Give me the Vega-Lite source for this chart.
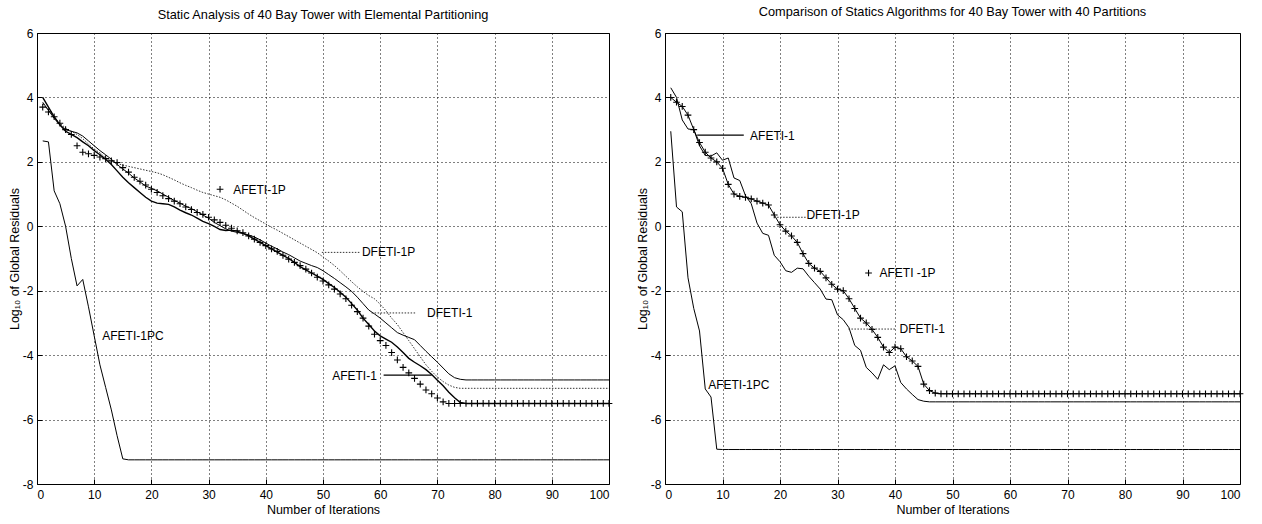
{
  "$schema": "https://vega.github.io/schema/vega-lite/v6.json",
  "background": "white",
  "padding": {"left": 7, "top": 5, "right": 2, "bottom": 2},
  "bounds": "flush",
  "spacing": 56,
  "config": {
    "font": "Liberation Sans",
    "view": {"stroke": "#000", "strokeWidth": 1},
    "axis": {"grid": true, "gridColor": "#000", "gridDash": [1, 3], "gridWidth": 1, "gridOpacity": 1, "domain": false, "ticks": true, "tickColor": "#000", "tickSize": -5, "tickWidth": 1, "labelFontSize": 12, "labelColor": "#000", "titleFontSize": 12.5, "titleFontWeight": "normal", "titleColor": "#000", "labelExpr": "'' + datum.value"},
    "axisX": {"labelPadding": 10, "titlePadding": 3},
    "axisY": {"labelPadding": 9, "titlePadding": 1},
    "title": {"fontSize": 12.75, "fontWeight": "normal", "color": "#000"}
  },
  "datasets": {
    "L_A1PC": [{"x":1,"y":2.65},{"x":2,"y":2.62},{"x":3,"y":1.1},{"x":4,"y":0.7},{"x":5,"y":0},{"x":6,"y":-1},{"x":7,"y":-1.85},{"x":8,"y":-1.65},{"x":9,"y":-2.5},{"x":10,"y":-3.4},{"x":11,"y":-4.3},{"x":12,"y":-5},{"x":13,"y":-5.7},{"x":14,"y":-6.5},{"x":15,"y":-7.22},{"x":16,"y":-7.25},{"x":17,"y":-7.25},{"x":18,"y":-7.25},{"x":19,"y":-7.25},{"x":20,"y":-7.25},{"x":21,"y":-7.25},{"x":22,"y":-7.25},{"x":23,"y":-7.25},{"x":24,"y":-7.25},{"x":25,"y":-7.25},{"x":26,"y":-7.25},{"x":27,"y":-7.25},{"x":28,"y":-7.25},{"x":29,"y":-7.25},{"x":30,"y":-7.25},{"x":31,"y":-7.25},{"x":32,"y":-7.25},{"x":33,"y":-7.25},{"x":34,"y":-7.25},{"x":35,"y":-7.25},{"x":36,"y":-7.25},{"x":37,"y":-7.25},{"x":38,"y":-7.25},{"x":39,"y":-7.25},{"x":40,"y":-7.25},{"x":41,"y":-7.25},{"x":42,"y":-7.25},{"x":43,"y":-7.25},{"x":44,"y":-7.25},{"x":45,"y":-7.25},{"x":46,"y":-7.25},{"x":47,"y":-7.25},{"x":48,"y":-7.25},{"x":49,"y":-7.25},{"x":50,"y":-7.25},{"x":51,"y":-7.25},{"x":52,"y":-7.25},{"x":53,"y":-7.25},{"x":54,"y":-7.25},{"x":55,"y":-7.25},{"x":56,"y":-7.25},{"x":57,"y":-7.25},{"x":58,"y":-7.25},{"x":59,"y":-7.25},{"x":60,"y":-7.25},{"x":61,"y":-7.25},{"x":62,"y":-7.25},{"x":63,"y":-7.25},{"x":64,"y":-7.25},{"x":65,"y":-7.25},{"x":66,"y":-7.25},{"x":67,"y":-7.25},{"x":68,"y":-7.25},{"x":69,"y":-7.25},{"x":70,"y":-7.25},{"x":71,"y":-7.25},{"x":72,"y":-7.25},{"x":73,"y":-7.25},{"x":74,"y":-7.25},{"x":75,"y":-7.25},{"x":76,"y":-7.25},{"x":77,"y":-7.25},{"x":78,"y":-7.25},{"x":79,"y":-7.25},{"x":80,"y":-7.25},{"x":81,"y":-7.25},{"x":82,"y":-7.25},{"x":83,"y":-7.25},{"x":84,"y":-7.25},{"x":85,"y":-7.25},{"x":86,"y":-7.25},{"x":87,"y":-7.25},{"x":88,"y":-7.25},{"x":89,"y":-7.25},{"x":90,"y":-7.25},{"x":91,"y":-7.25},{"x":92,"y":-7.25},{"x":93,"y":-7.25},{"x":94,"y":-7.25},{"x":95,"y":-7.25},{"x":96,"y":-7.25},{"x":97,"y":-7.25},{"x":98,"y":-7.25},{"x":99,"y":-7.25},{"x":100,"y":-7.25}],
    "L_D1P": [{"x":1,"y":3.8},{"x":2,"y":3.6},{"x":3,"y":3.4},{"x":4,"y":3.2},{"x":5,"y":3.05},{"x":6,"y":2.95},{"x":7,"y":2.85},{"x":8,"y":2.72},{"x":9,"y":2.55},{"x":10,"y":2.4},{"x":11,"y":2.28},{"x":12,"y":2.12},{"x":13,"y":2.02},{"x":14,"y":1.95},{"x":15,"y":1.9},{"x":16,"y":1.86},{"x":17,"y":1.82},{"x":18,"y":1.78},{"x":19,"y":1.74},{"x":20,"y":1.7},{"x":21,"y":1.66},{"x":22,"y":1.6},{"x":23,"y":1.52},{"x":24,"y":1.44},{"x":25,"y":1.35},{"x":26,"y":1.27},{"x":27,"y":1.2},{"x":28,"y":1.12},{"x":29,"y":1.05},{"x":30,"y":1},{"x":31,"y":0.95},{"x":32,"y":0.9},{"x":33,"y":0.82},{"x":34,"y":0.72},{"x":35,"y":0.62},{"x":36,"y":0.5},{"x":37,"y":0.38},{"x":38,"y":0.27},{"x":39,"y":0.17},{"x":40,"y":0.07},{"x":41,"y":-0.03},{"x":42,"y":-0.12},{"x":43,"y":-0.22},{"x":44,"y":-0.32},{"x":45,"y":-0.42},{"x":46,"y":-0.52},{"x":47,"y":-0.62},{"x":48,"y":-0.72},{"x":49,"y":-0.82},{"x":50,"y":-0.95},{"x":51,"y":-1.08},{"x":52,"y":-1.22},{"x":53,"y":-1.38},{"x":54,"y":-1.55},{"x":55,"y":-1.72},{"x":56,"y":-1.88},{"x":57,"y":-2.02},{"x":58,"y":-2.15},{"x":59,"y":-2.25},{"x":60,"y":-2.42},{"x":61,"y":-2.62},{"x":62,"y":-2.85},{"x":63,"y":-3.05},{"x":64,"y":-3.3},{"x":65,"y":-3.55},{"x":66,"y":-3.8},{"x":67,"y":-4.05},{"x":68,"y":-4.3},{"x":69,"y":-4.5},{"x":70,"y":-4.68},{"x":71,"y":-4.82},{"x":72,"y":-4.93},{"x":73,"y":-5},{"x":74,"y":-5.03},{"x":75,"y":-5.03},{"x":76,"y":-5.03},{"x":77,"y":-5.03},{"x":78,"y":-5.03},{"x":79,"y":-5.03},{"x":80,"y":-5.03},{"x":81,"y":-5.03},{"x":82,"y":-5.03},{"x":83,"y":-5.03},{"x":84,"y":-5.03},{"x":85,"y":-5.03},{"x":86,"y":-5.03},{"x":87,"y":-5.03},{"x":88,"y":-5.03},{"x":89,"y":-5.03},{"x":90,"y":-5.03},{"x":91,"y":-5.03},{"x":92,"y":-5.03},{"x":93,"y":-5.03},{"x":94,"y":-5.03},{"x":95,"y":-5.03},{"x":96,"y":-5.03},{"x":97,"y":-5.03},{"x":98,"y":-5.03},{"x":99,"y":-5.03},{"x":100,"y":-5.03}],
    "L_D1": [{"x":1,"y":3.85},{"x":2,"y":3.6},{"x":3,"y":3.35},{"x":4,"y":3.15},{"x":5,"y":3},{"x":6,"y":2.95},{"x":7,"y":2.9},{"x":8,"y":2.8},{"x":9,"y":2.65},{"x":10,"y":2.5},{"x":11,"y":2.35},{"x":12,"y":2.22},{"x":13,"y":2.08},{"x":14,"y":1.92},{"x":15,"y":1.78},{"x":16,"y":1.65},{"x":17,"y":1.5},{"x":18,"y":1.38},{"x":19,"y":1.25},{"x":20,"y":1.18},{"x":21,"y":1.1},{"x":22,"y":1},{"x":23,"y":0.9},{"x":24,"y":0.8},{"x":25,"y":0.72},{"x":26,"y":0.62},{"x":27,"y":0.55},{"x":28,"y":0.45},{"x":29,"y":0.35},{"x":30,"y":0.25},{"x":31,"y":0.12},{"x":32,"y":0.02},{"x":33,"y":-0.08},{"x":34,"y":-0.15},{"x":35,"y":-0.19},{"x":36,"y":-0.22},{"x":37,"y":-0.27},{"x":38,"y":-0.33},{"x":39,"y":-0.42},{"x":40,"y":-0.52},{"x":41,"y":-0.62},{"x":42,"y":-0.7},{"x":43,"y":-0.8},{"x":44,"y":-0.88},{"x":45,"y":-0.98},{"x":46,"y":-1.08},{"x":47,"y":-1.15},{"x":48,"y":-1.22},{"x":49,"y":-1.28},{"x":50,"y":-1.38},{"x":51,"y":-1.5},{"x":52,"y":-1.62},{"x":53,"y":-1.75},{"x":54,"y":-1.88},{"x":55,"y":-2.02},{"x":56,"y":-2.2},{"x":57,"y":-2.4},{"x":58,"y":-2.6},{"x":59,"y":-2.72},{"x":60,"y":-2.85},{"x":61,"y":-3},{"x":62,"y":-3.15},{"x":63,"y":-3.3},{"x":64,"y":-3.38},{"x":65,"y":-3.45},{"x":66,"y":-3.52},{"x":67,"y":-3.7},{"x":68,"y":-3.88},{"x":69,"y":-4.05},{"x":70,"y":-4.22},{"x":71,"y":-4.4},{"x":72,"y":-4.58},{"x":73,"y":-4.7},{"x":74,"y":-4.75},{"x":75,"y":-4.77},{"x":76,"y":-4.77},{"x":77,"y":-4.77},{"x":78,"y":-4.77},{"x":79,"y":-4.77},{"x":80,"y":-4.77},{"x":81,"y":-4.77},{"x":82,"y":-4.77},{"x":83,"y":-4.77},{"x":84,"y":-4.77},{"x":85,"y":-4.77},{"x":86,"y":-4.77},{"x":87,"y":-4.77},{"x":88,"y":-4.77},{"x":89,"y":-4.77},{"x":90,"y":-4.77},{"x":91,"y":-4.77},{"x":92,"y":-4.77},{"x":93,"y":-4.77},{"x":94,"y":-4.77},{"x":95,"y":-4.77},{"x":96,"y":-4.77},{"x":97,"y":-4.77},{"x":98,"y":-4.77},{"x":99,"y":-4.77},{"x":100,"y":-4.77}],
    "L_A1": [{"x":1,"y":4},{"x":2,"y":3.7},{"x":3,"y":3.4},{"x":4,"y":3.15},{"x":5,"y":2.95},{"x":6,"y":2.85},{"x":7,"y":2.75},{"x":8,"y":2.62},{"x":9,"y":2.5},{"x":10,"y":2.35},{"x":11,"y":2.22},{"x":12,"y":2.08},{"x":13,"y":1.92},{"x":14,"y":1.72},{"x":15,"y":1.52},{"x":16,"y":1.35},{"x":17,"y":1.2},{"x":18,"y":1.05},{"x":19,"y":0.9},{"x":20,"y":0.78},{"x":21,"y":0.72},{"x":22,"y":0.7},{"x":23,"y":0.68},{"x":24,"y":0.6},{"x":25,"y":0.5},{"x":26,"y":0.42},{"x":27,"y":0.35},{"x":28,"y":0.25},{"x":29,"y":0.15},{"x":30,"y":0.08},{"x":31,"y":0},{"x":32,"y":-0.1},{"x":33,"y":-0.13},{"x":34,"y":-0.12},{"x":35,"y":-0.15},{"x":36,"y":-0.22},{"x":37,"y":-0.3},{"x":38,"y":-0.4},{"x":39,"y":-0.5},{"x":40,"y":-0.6},{"x":41,"y":-0.7},{"x":42,"y":-0.8},{"x":43,"y":-0.9},{"x":44,"y":-1},{"x":45,"y":-1.12},{"x":46,"y":-1.25},{"x":47,"y":-1.35},{"x":48,"y":-1.45},{"x":49,"y":-1.55},{"x":50,"y":-1.65},{"x":51,"y":-1.78},{"x":52,"y":-1.9},{"x":53,"y":-2.05},{"x":54,"y":-2.2},{"x":55,"y":-2.4},{"x":56,"y":-2.6},{"x":57,"y":-2.85},{"x":58,"y":-3.05},{"x":59,"y":-3.25},{"x":60,"y":-3.4},{"x":61,"y":-3.5},{"x":62,"y":-3.6},{"x":63,"y":-3.75},{"x":64,"y":-3.92},{"x":65,"y":-4.1},{"x":66,"y":-4.22},{"x":67,"y":-4.33},{"x":68,"y":-4.45},{"x":69,"y":-4.6},{"x":70,"y":-4.78},{"x":71,"y":-4.95},{"x":72,"y":-5.15},{"x":73,"y":-5.32},{"x":74,"y":-5.47},{"x":75,"y":-5.5},{"x":76,"y":-5.5},{"x":77,"y":-5.5},{"x":78,"y":-5.5},{"x":79,"y":-5.5},{"x":80,"y":-5.5},{"x":81,"y":-5.5},{"x":82,"y":-5.5},{"x":83,"y":-5.5},{"x":84,"y":-5.5},{"x":85,"y":-5.5},{"x":86,"y":-5.5},{"x":87,"y":-5.5},{"x":88,"y":-5.5},{"x":89,"y":-5.5},{"x":90,"y":-5.5},{"x":91,"y":-5.5},{"x":92,"y":-5.5},{"x":93,"y":-5.5},{"x":94,"y":-5.5},{"x":95,"y":-5.5},{"x":96,"y":-5.5},{"x":97,"y":-5.5},{"x":98,"y":-5.5},{"x":99,"y":-5.5},{"x":100,"y":-5.5}],
    "L_A1P": [{"x":1,"y":3.7},{"x":2,"y":3.55},{"x":3,"y":3.4},{"x":4,"y":3.2},{"x":5,"y":3},{"x":6,"y":2.85},{"x":7,"y":2.5},{"x":8,"y":2.3},{"x":9,"y":2.25},{"x":10,"y":2.2},{"x":11,"y":2.15},{"x":12,"y":2.1},{"x":13,"y":2.03},{"x":14,"y":1.98},{"x":15,"y":1.82},{"x":16,"y":1.68},{"x":17,"y":1.52},{"x":18,"y":1.4},{"x":19,"y":1.28},{"x":20,"y":1.15},{"x":21,"y":1.05},{"x":22,"y":0.95},{"x":23,"y":0.86},{"x":24,"y":0.78},{"x":25,"y":0.7},{"x":26,"y":0.6},{"x":27,"y":0.52},{"x":28,"y":0.43},{"x":29,"y":0.37},{"x":30,"y":0.28},{"x":31,"y":0.2},{"x":32,"y":0.12},{"x":33,"y":0.03},{"x":34,"y":-0.06},{"x":35,"y":-0.14},{"x":36,"y":-0.2},{"x":37,"y":-0.3},{"x":38,"y":-0.4},{"x":39,"y":-0.5},{"x":40,"y":-0.6},{"x":41,"y":-0.7},{"x":42,"y":-0.78},{"x":43,"y":-0.9},{"x":44,"y":-1.02},{"x":45,"y":-1.12},{"x":46,"y":-1.22},{"x":47,"y":-1.33},{"x":48,"y":-1.45},{"x":49,"y":-1.58},{"x":50,"y":-1.7},{"x":51,"y":-1.82},{"x":52,"y":-1.95},{"x":53,"y":-2.1},{"x":54,"y":-2.25},{"x":55,"y":-2.45},{"x":56,"y":-2.65},{"x":57,"y":-2.85},{"x":58,"y":-3.1},{"x":59,"y":-3.35},{"x":60,"y":-3.55},{"x":61,"y":-3.7},{"x":62,"y":-3.92},{"x":63,"y":-4.15},{"x":64,"y":-4.38},{"x":65,"y":-4.55},{"x":66,"y":-4.72},{"x":67,"y":-4.9},{"x":68,"y":-5.08},{"x":69,"y":-5.2},{"x":70,"y":-5.33},{"x":71,"y":-5.45},{"x":72,"y":-5.5},{"x":73,"y":-5.5},{"x":74,"y":-5.5},{"x":75,"y":-5.5},{"x":76,"y":-5.5},{"x":77,"y":-5.5},{"x":78,"y":-5.5},{"x":79,"y":-5.5},{"x":80,"y":-5.5},{"x":81,"y":-5.5},{"x":82,"y":-5.5},{"x":83,"y":-5.5},{"x":84,"y":-5.5},{"x":85,"y":-5.5},{"x":86,"y":-5.5},{"x":87,"y":-5.5},{"x":88,"y":-5.5},{"x":89,"y":-5.5},{"x":90,"y":-5.5},{"x":91,"y":-5.5},{"x":92,"y":-5.5},{"x":93,"y":-5.5},{"x":94,"y":-5.5},{"x":95,"y":-5.5},{"x":96,"y":-5.5},{"x":97,"y":-5.5},{"x":98,"y":-5.5},{"x":99,"y":-5.5},{"x":100,"y":-5.5}],
    "L_labels": [{"x":34.3,"y":1.13,"label":"AFETI-1P"},{"x":56.8,"y":-0.81,"label":"DFETI-1P"},{"x":68.2,"y":-2.69,"label":"DFETI-1"},{"x":51.6,"y":-4.64,"label":"AFETI-1"},{"x":11.4,"y":-3.4,"label":"AFETI-1PC"}],
    "L_leaders": [{"x":49.8,"x2":56.6,"y":-0.81,"label":"DFETI-1P"},{"x":58.5,"x2":66.3,"y":-2.69,"label":"DFETI-1"},{"x":60.6,"x2":69,"y":-4.62,"label":"AFETI-1"}],
    "L_key": [{"x":32,"y":1.15,"label":"AFETI-1P"}],
    "R_A1PC": [{"x":1,"y":2.95},{"x":2,"y":0.6},{"x":3,"y":0.45},{"x":4,"y":-1.6},{"x":5,"y":-2.55},{"x":6,"y":-3.25},{"x":7,"y":-5.05},{"x":8,"y":-5.3},{"x":9,"y":-6.92},{"x":10,"y":-6.93},{"x":11,"y":-6.93},{"x":12,"y":-6.93},{"x":13,"y":-6.93},{"x":14,"y":-6.93},{"x":15,"y":-6.93},{"x":16,"y":-6.93},{"x":17,"y":-6.93},{"x":18,"y":-6.93},{"x":19,"y":-6.93},{"x":20,"y":-6.93},{"x":21,"y":-6.93},{"x":22,"y":-6.93},{"x":23,"y":-6.93},{"x":24,"y":-6.93},{"x":25,"y":-6.93},{"x":26,"y":-6.93},{"x":27,"y":-6.93},{"x":28,"y":-6.93},{"x":29,"y":-6.93},{"x":30,"y":-6.93},{"x":31,"y":-6.93},{"x":32,"y":-6.93},{"x":33,"y":-6.93},{"x":34,"y":-6.93},{"x":35,"y":-6.93},{"x":36,"y":-6.93},{"x":37,"y":-6.93},{"x":38,"y":-6.93},{"x":39,"y":-6.93},{"x":40,"y":-6.93},{"x":41,"y":-6.93},{"x":42,"y":-6.93},{"x":43,"y":-6.93},{"x":44,"y":-6.93},{"x":45,"y":-6.93},{"x":46,"y":-6.93},{"x":47,"y":-6.93},{"x":48,"y":-6.93},{"x":49,"y":-6.93},{"x":50,"y":-6.93},{"x":51,"y":-6.93},{"x":52,"y":-6.93},{"x":53,"y":-6.93},{"x":54,"y":-6.93},{"x":55,"y":-6.93},{"x":56,"y":-6.93},{"x":57,"y":-6.93},{"x":58,"y":-6.93},{"x":59,"y":-6.93},{"x":60,"y":-6.93},{"x":61,"y":-6.93},{"x":62,"y":-6.93},{"x":63,"y":-6.93},{"x":64,"y":-6.93},{"x":65,"y":-6.93},{"x":66,"y":-6.93},{"x":67,"y":-6.93},{"x":68,"y":-6.93},{"x":69,"y":-6.93},{"x":70,"y":-6.93},{"x":71,"y":-6.93},{"x":72,"y":-6.93},{"x":73,"y":-6.93},{"x":74,"y":-6.93},{"x":75,"y":-6.93},{"x":76,"y":-6.93},{"x":77,"y":-6.93},{"x":78,"y":-6.93},{"x":79,"y":-6.93},{"x":80,"y":-6.93},{"x":81,"y":-6.93},{"x":82,"y":-6.93},{"x":83,"y":-6.93},{"x":84,"y":-6.93},{"x":85,"y":-6.93},{"x":86,"y":-6.93},{"x":87,"y":-6.93},{"x":88,"y":-6.93},{"x":89,"y":-6.93},{"x":90,"y":-6.93},{"x":91,"y":-6.93},{"x":92,"y":-6.93},{"x":93,"y":-6.93},{"x":94,"y":-6.93},{"x":95,"y":-6.93},{"x":96,"y":-6.93},{"x":97,"y":-6.93},{"x":98,"y":-6.93},{"x":99,"y":-6.93},{"x":100,"y":-6.93}],
    "R_D1": [{"x":1,"y":4.3},{"x":2,"y":4},{"x":3,"y":3.3},{"x":4,"y":3.02},{"x":5,"y":3},{"x":6,"y":2.5},{"x":7,"y":2.2},{"x":8,"y":2.18},{"x":9,"y":2.28},{"x":10,"y":2.05},{"x":11,"y":2.12},{"x":12,"y":1.5},{"x":13,"y":1.42},{"x":14,"y":0.95},{"x":15,"y":0.7},{"x":16,"y":0.1},{"x":17,"y":-0.22},{"x":18,"y":-0.28},{"x":19,"y":-0.9},{"x":20,"y":-1.1},{"x":21,"y":-1.38},{"x":22,"y":-1.43},{"x":23,"y":-1.3},{"x":24,"y":-1.32},{"x":25,"y":-1.55},{"x":26,"y":-1.75},{"x":27,"y":-1.95},{"x":28,"y":-2.26},{"x":29,"y":-2.28},{"x":30,"y":-2.75},{"x":31,"y":-2.9},{"x":32,"y":-3.15},{"x":33,"y":-3.7},{"x":34,"y":-3.85},{"x":35,"y":-4.38},{"x":36,"y":-4.55},{"x":37,"y":-4.75},{"x":38,"y":-4.3},{"x":39,"y":-4.45},{"x":40,"y":-4.33},{"x":41,"y":-4.85},{"x":42,"y":-5.05},{"x":43,"y":-5.22},{"x":44,"y":-5.38},{"x":45,"y":-5.43},{"x":46,"y":-5.45},{"x":47,"y":-5.45},{"x":48,"y":-5.45},{"x":49,"y":-5.45},{"x":50,"y":-5.45},{"x":51,"y":-5.45},{"x":52,"y":-5.45},{"x":53,"y":-5.45},{"x":54,"y":-5.45},{"x":55,"y":-5.45},{"x":56,"y":-5.45},{"x":57,"y":-5.45},{"x":58,"y":-5.45},{"x":59,"y":-5.45},{"x":60,"y":-5.45},{"x":61,"y":-5.45},{"x":62,"y":-5.45},{"x":63,"y":-5.45},{"x":64,"y":-5.45},{"x":65,"y":-5.45},{"x":66,"y":-5.45},{"x":67,"y":-5.45},{"x":68,"y":-5.45},{"x":69,"y":-5.45},{"x":70,"y":-5.45},{"x":71,"y":-5.45},{"x":72,"y":-5.45},{"x":73,"y":-5.45},{"x":74,"y":-5.45},{"x":75,"y":-5.45},{"x":76,"y":-5.45},{"x":77,"y":-5.45},{"x":78,"y":-5.45},{"x":79,"y":-5.45},{"x":80,"y":-5.45},{"x":81,"y":-5.45},{"x":82,"y":-5.45},{"x":83,"y":-5.45},{"x":84,"y":-5.45},{"x":85,"y":-5.45},{"x":86,"y":-5.45},{"x":87,"y":-5.45},{"x":88,"y":-5.45},{"x":89,"y":-5.45},{"x":90,"y":-5.45},{"x":91,"y":-5.45},{"x":92,"y":-5.45},{"x":93,"y":-5.45},{"x":94,"y":-5.45},{"x":95,"y":-5.45},{"x":96,"y":-5.45},{"x":97,"y":-5.45},{"x":98,"y":-5.45},{"x":99,"y":-5.45},{"x":100,"y":-5.45}],
    "R_A1P": [{"x":1,"y":4},{"x":2,"y":3.85},{"x":3,"y":3.72},{"x":4,"y":3.45},{"x":5,"y":3},{"x":6,"y":2.6},{"x":7,"y":2.3},{"x":8,"y":2.12},{"x":9,"y":2},{"x":10,"y":1.8},{"x":11,"y":1.3},{"x":12,"y":1},{"x":13,"y":0.93},{"x":14,"y":0.9},{"x":15,"y":0.85},{"x":16,"y":0.78},{"x":17,"y":0.72},{"x":18,"y":0.66},{"x":19,"y":0.35},{"x":20,"y":0.05},{"x":21,"y":-0.15},{"x":22,"y":-0.3},{"x":23,"y":-0.5},{"x":24,"y":-0.85},{"x":25,"y":-1.15},{"x":26,"y":-1.3},{"x":27,"y":-1.4},{"x":28,"y":-1.6},{"x":29,"y":-1.8},{"x":30,"y":-1.95},{"x":31,"y":-2},{"x":32,"y":-2.25},{"x":33,"y":-2.55},{"x":34,"y":-2.85},{"x":35,"y":-3},{"x":36,"y":-3.2},{"x":37,"y":-3.45},{"x":38,"y":-3.75},{"x":39,"y":-3.92},{"x":40,"y":-3.75},{"x":41,"y":-3.8},{"x":42,"y":-4.05},{"x":43,"y":-4.18},{"x":44,"y":-4.35},{"x":45,"y":-4.9},{"x":46,"y":-5.1},{"x":47,"y":-5.18},{"x":48,"y":-5.2},{"x":49,"y":-5.2},{"x":50,"y":-5.2},{"x":51,"y":-5.2},{"x":52,"y":-5.2},{"x":53,"y":-5.2},{"x":54,"y":-5.2},{"x":55,"y":-5.2},{"x":56,"y":-5.2},{"x":57,"y":-5.2},{"x":58,"y":-5.2},{"x":59,"y":-5.2},{"x":60,"y":-5.2},{"x":61,"y":-5.2},{"x":62,"y":-5.2},{"x":63,"y":-5.2},{"x":64,"y":-5.2},{"x":65,"y":-5.2},{"x":66,"y":-5.2},{"x":67,"y":-5.2},{"x":68,"y":-5.2},{"x":69,"y":-5.2},{"x":70,"y":-5.2},{"x":71,"y":-5.2},{"x":72,"y":-5.2},{"x":73,"y":-5.2},{"x":74,"y":-5.2},{"x":75,"y":-5.2},{"x":76,"y":-5.2},{"x":77,"y":-5.2},{"x":78,"y":-5.2},{"x":79,"y":-5.2},{"x":80,"y":-5.2},{"x":81,"y":-5.2},{"x":82,"y":-5.2},{"x":83,"y":-5.2},{"x":84,"y":-5.2},{"x":85,"y":-5.2},{"x":86,"y":-5.2},{"x":87,"y":-5.2},{"x":88,"y":-5.2},{"x":89,"y":-5.2},{"x":90,"y":-5.2},{"x":91,"y":-5.2},{"x":92,"y":-5.2},{"x":93,"y":-5.2},{"x":94,"y":-5.2},{"x":95,"y":-5.2},{"x":96,"y":-5.2},{"x":97,"y":-5.2},{"x":98,"y":-5.2},{"x":99,"y":-5.2},{"x":100,"y":-5.2}],
    "R_labels": [{"x":14.8,"y":2.8,"label":"AFETI-1"},{"x":24.6,"y":0.36,"label":"DFETI-1P"},{"x":37.3,"y":-1.45,"label":"AFETI -1P"},{"x":40.8,"y":-3.2,"label":"DFETI-1"},{"x":7.5,"y":-4.92,"label":"AFETI-1PC"}],
    "R_leaders": [{"x":5.6,"x2":13.7,"y":2.83,"label":"AFETI-1"},{"x":19.5,"x2":24.5,"y":0.28,"label":"DFETI-1P"},{"x":31.9,"x2":40,"y":-3.19,"label":"DFETI-1"}],
    "R_key": [{"x":35.4,"y":-1.45,"label":"AFETI -1P"}]
  },
  "hconcat": [
    {
      "width": 572,
      "height": 451,
      "title": {"text": "Static Analysis of 40 Bay Tower with Elemental Partitioning", "offset": 5},
      "encoding": {
        "x": {"field": "x", "type": "quantitative", "scale": {"domain": [0, 100], "nice": false, "zero": false}, "axis": {"values": [0, 10, 20, 30, 40, 50, 60, 70, 80, 90, 100], "title": "Number of Iterations", "grid": true, "gridDash": [1, 3], "gridColor": "#000"}},
        "y": {"field": "y", "type": "quantitative", "scale": {"domain": [-8, 6], "nice": false, "zero": false}, "axis": {"values": [-8, -6, -4, -2, 0, 2, 4, 6], "title": "Log₁₀ of Global Residuals", "grid": true, "gridDash": [1, 3], "gridColor": "#000"}}
      },
      "layer": [
        {"data": {"name": "L_A1PC"}, "mark": {"type": "line", "color": "#000", "strokeWidth": 1}},
        {"data": {"name": "L_D1P"}, "mark": {"type": "line", "color": "#333", "strokeWidth": 1, "strokeDash": [1.5, 1.5]}},
        {"data": {"name": "L_D1"}, "mark": {"type": "line", "color": "#000", "strokeWidth": 1}},
        {"data": {"name": "L_A1"}, "mark": {"type": "line", "color": "#000", "strokeWidth": 1.4}},
        {"data": {"name": "L_A1P"}, "mark": {"type": "point", "shape": "M-1,0L1,0M0,-1L0,1", "filled": false, "stroke": "#000", "strokeWidth": 1.1, "size": 45, "opacity": 1}},
        {"data": {"name": "L_leaders"}, "transform": [{"filter": "datum.label != 'AFETI-1'"}], "mark": {"type": "rule", "color": "#333", "strokeWidth": 1, "strokeDash": [1.5, 1.5]}, "encoding": {"x2": {"field": "x2"}}},
        {"data": {"name": "L_leaders"}, "transform": [{"filter": "datum.label == 'AFETI-1'"}], "mark": {"type": "rule", "color": "#000", "strokeWidth": 1.2}, "encoding": {"x2": {"field": "x2"}}},
        {"data": {"name": "L_key"}, "mark": {"type": "point", "shape": "M-1,0L1,0M0,-1L0,1", "filled": false, "stroke": "#000", "strokeWidth": 1.1, "size": 45, "opacity": 1}},
        {"data": {"name": "L_labels"}, "mark": {"type": "text", "align": "left", "baseline": "middle", "fontSize": 12, "color": "#000"}, "encoding": {"text": {"field": "label"}}}
      ]
    },
    {
      "width": 575,
      "height": 451,
      "title": {"text": "Comparison of Statics Algorithms for 40 Bay Tower with 40 Partitions", "offset": 8},
      "encoding": {
        "x": {"field": "x", "type": "quantitative", "scale": {"domain": [0, 100], "nice": false, "zero": false}, "axis": {"values": [0, 10, 20, 30, 40, 50, 60, 70, 80, 90, 100], "title": "Number of Iterations", "grid": true, "gridDash": [1, 3], "gridColor": "#000"}},
        "y": {"field": "y", "type": "quantitative", "scale": {"domain": [-8, 6], "nice": false, "zero": false}, "axis": {"values": [-8, -6, -4, -2, 0, 2, 4, 6], "title": "Log₁₀ of Global Residuals", "grid": true, "gridDash": [1, 3], "gridColor": "#000"}}
      },
      "layer": [
        {"data": {"name": "R_A1PC"}, "mark": {"type": "line", "color": "#000", "strokeWidth": 1}},
        {"data": {"name": "R_D1"}, "mark": {"type": "line", "color": "#000", "strokeWidth": 1}},
        {"data": {"name": "R_A1P"}, "mark": {"type": "line", "color": "#000", "strokeWidth": 1}},
        {"data": {"name": "R_A1P"}, "mark": {"type": "point", "shape": "M-1,0L1,0M0,-1L0,1", "filled": false, "stroke": "#000", "strokeWidth": 1.1, "size": 45, "opacity": 1}},
        {"data": {"name": "R_leaders"}, "transform": [{"filter": "datum.label != 'AFETI-1'"}], "mark": {"type": "rule", "color": "#333", "strokeWidth": 1, "strokeDash": [1.5, 1.5]}, "encoding": {"x2": {"field": "x2"}}},
        {"data": {"name": "R_leaders"}, "transform": [{"filter": "datum.label == 'AFETI-1'"}], "mark": {"type": "rule", "color": "#000", "strokeWidth": 1.2}, "encoding": {"x2": {"field": "x2"}}},
        {"data": {"name": "R_key"}, "mark": {"type": "point", "shape": "M-1,0L1,0M0,-1L0,1", "filled": false, "stroke": "#000", "strokeWidth": 1.1, "size": 45, "opacity": 1}},
        {"data": {"name": "R_labels"}, "mark": {"type": "text", "align": "left", "baseline": "middle", "fontSize": 12, "color": "#000"}, "encoding": {"text": {"field": "label"}}}
      ]
    }
  ]
}
